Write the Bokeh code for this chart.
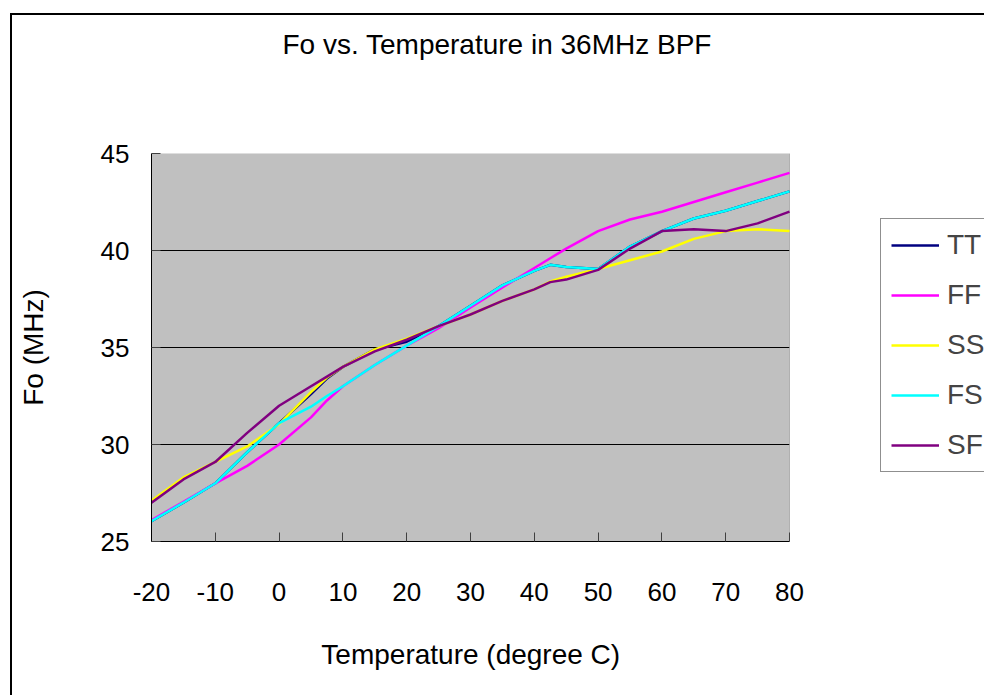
from bokeh.plotting import figure
from bokeh.models import Range1d, FixedTicker, Legend, LegendItem, Title, BoxAnnotation
from bokeh.embed import file_html
from bokeh.resources import INLINE

# Temperature sweep (degree C) and centre frequency Fo (MHz) per process corner
temps = [-20, -15, -10, -5, 0, 5, 7.5, 10, 15, 20, 25, 30, 35, 40, 42.5, 45, 50, 55, 60, 65, 70, 75, 80]

tt = [26.05, 27.0, 28.0, 29.6, 31.1, 32.6, 33.4, 34.0, 34.9, 35.3, 36.1, 37.15, 38.2, 38.95,
      39.26, 39.15, 39.05, 40.2, 41.0, 41.65, 42.05, 42.55, 43.05]
ff = [26.1, 27.05, 28.0, 28.9, 30.0, 31.4, 32.27, 33.0, 34.1, 35.1, 36.0, 37.06, 38.1, 39.1,
      39.6, 40.1, 41.0, 41.6, 42.0, 42.5, 43.0, 43.5, 44.0]
ss = [27.1, 28.3, 29.1, 29.9, 31.05, 32.7, 33.45, 34.0, 34.9, 35.45, 36.1, 36.7, 37.4, 38.0,
      38.4, 38.65, 39.05, 39.5, 39.95, 40.6, 41.0, 41.1, 41.0]
fs = [26.05, 27.0, 28.0, 29.6, 31.1, 31.95, 32.5, 33.0, 34.1, 35.1, 36.1, 37.15, 38.2, 38.95,
      39.26, 39.15, 39.05, 40.2, 41.0, 41.65, 42.05, 42.55, 43.05]
sf = [27.0, 28.2, 29.1, 30.6, 32.0, 33.0, 33.5, 34.0, 34.8, 35.4, 36.1, 36.7, 37.4, 38.0,
      38.37, 38.5, 39.0, 40.1, 41.0, 41.1, 41.0, 41.4, 42.0]

names = ["TT", "FF", "SS", "FS", "SF"]
colors = ["#000080", "#FF00FF", "#FFFF00", "#00FFFF", "#800080"]
series = [tt, ff, ss, fs, sf]

x_ticks = [-20, -10, 0, 10, 20, 30, 40, 50, 60, 70, 80]
y_ticks = [25, 30, 35, 40, 45]
x_min, x_max = -20, 80
y_min, y_max = 25, 45

FONT = "Liberation Sans"

# The frame runs to the right edge of the page so the legend can sit beside the
# plotting area; the plotting area itself is [-20, 80] x [25, 45].
PLOT_PX = 638          # pixel width of the [-20, 80] span
FRAME_PX = 984 - 151   # frame width up to the page edge
x_end = x_min + (x_max - x_min) * FRAME_PX / PLOT_PX

p = figure(width=984, height=695, output_backend="svg", toolbar_location=None,
           x_range=Range1d(x_min, x_end), y_range=Range1d(y_min, y_max),
           min_border_left=151, min_border_right=0,
           min_border_top=153, min_border_bottom=154)

p.background_fill_color = "white"
p.border_fill_color = None
p.outline_line_color = None

# chart-area frame: thin black rule along the left and top edges of the page
p.styles = {
    "background": ("linear-gradient(#000, #000) 10px 13px / 2px 100% no-repeat, "
                   "linear-gradient(#000, #000) 10px 13px / 100% 2px no-repeat, #fff"),
}

# grey plotting area (drawn beneath the grid), and its border
p.add_layout(BoxAnnotation(left=x_min, right=x_max, bottom=y_min, top=y_max,
                           fill_color="#C0C0C0", fill_alpha=1,
                           line_color=None, level="image"))
p.add_layout(BoxAnnotation(left=x_min, right=x_max, bottom=y_min, top=y_max,
                           fill_alpha=0, line_color="#808080", line_width=1,
                           level="underlay"))

# axes
for ax in (p.xaxis[0], p.yaxis[0]):
    ax.major_tick_in = 9
    ax.major_tick_out = 0
    ax.minor_tick_line_color = None
    ax.axis_line_color = "black"
    ax.major_tick_line_color = "#404040"
    ax.major_label_text_font = FONT
    ax.major_label_text_font_size = "26px"
    ax.major_label_text_color = "black"
    ax.axis_label_text_font = FONT
    ax.axis_label_text_font_size = "28px"
    ax.axis_label_text_font_style = "normal"
    ax.axis_label_text_color = "black"

p.xaxis.bounds = (x_min, x_max)
p.xaxis.ticker = FixedTicker(ticks=x_ticks)
p.yaxis.ticker = FixedTicker(ticks=y_ticks)
p.xaxis.major_label_overrides = {t: str(t) for t in x_ticks}
# trailing no-break spaces keep the label centred under the [-20, 80] span
p.xaxis.axis_label = "Temperature (degree C)" + "\u00a0" * 25
p.yaxis.axis_label = "Fo (MHz)"
p.xaxis.major_label_standoff = 41
p.xaxis.axis_label_standoff = 35
p.yaxis.major_label_standoff = 22
p.yaxis.axis_label_standoff = 49

p.xgrid.grid_line_color = None
p.ygrid.ticker = FixedTicker(ticks=[30, 35, 40])
p.ygrid.bounds = (y_min, y_max)
p.ygrid.grid_line_color = "black"
p.ygrid.grid_line_width = 1

# the horizontal grid lines stop at the right edge of the plotting area
p.add_layout(BoxAnnotation(left=x_max, right=x_end + 10, bottom=y_min - 1, top=y_max + 1,
                           fill_color="white", fill_alpha=1,
                           line_color=None, level="underlay"))
p.add_layout(BoxAnnotation(left=x_max, right=x_max, bottom=y_min, top=y_max,
                           fill_alpha=0, line_color="#808080", line_width=1,
                           level="underlay"))

# title: a blank spacer panel next to the frame, the title text above it
p.add_layout(Title(text=" ", text_font_size="1px", standoff=91), "above")
p.add_layout(Title(text="Fo vs. Temperature in 36MHz BPF", align="left", offset=131,
                   text_font=FONT, text_font_size="28px", text_font_style="normal",
                   text_color="black", standoff=0), "above")

# curves
items = []
for name, col, ys in zip(names, colors, series):
    r = p.line(temps, ys, line_color=col, line_width=2.5)
    items.append(LegendItem(label=name, renderers=[r]))

legend = Legend(items=items, location=(729, 69),
                label_text_font=FONT, label_text_font_size="28px",
                glyph_width=48, glyph_height=32, label_height=32, label_width=60,
                label_standoff=8, spacing=18, padding=10, margin=0,
                border_line_color="#202020", border_line_width=1,
                background_fill_color="white", background_fill_alpha=1)
p.add_layout(legend, "center")

open("out.html", "w").write(file_html(p, INLINE))
